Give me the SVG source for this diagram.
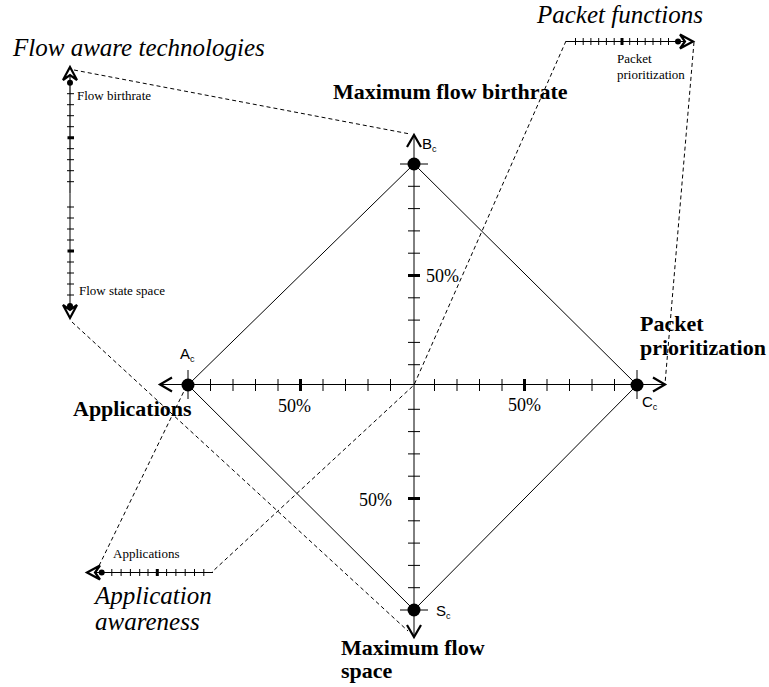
<svg xmlns="http://www.w3.org/2000/svg" xmlns:xlink="http://www.w3.org/1999/xlink" width="769" height="687" viewBox="0 0 769 687">
<style>
.ax{fill:none;stroke:#000;stroke-width:1.2}
.axg{fill:none;stroke:#000;stroke-width:1}
.tk{fill:none;stroke:#000;stroke-width:1}
.tkb{fill:none;stroke:#000;stroke-width:3}
.dg{fill:none;stroke:#000;stroke-width:1}
.ds{fill:none;stroke:#000;stroke-width:1;stroke-dasharray:4 3}
.it{font-family:"Liberation Serif",serif;font-style:italic;font-size:25px;fill:#000}
.bd{font-family:"Liberation Serif",serif;font-weight:bold;font-size:22px;fill:#000}
.sm{font-family:"Liberation Serif",serif;font-size:13px;fill:#000}
.pc{font-family:"Liberation Serif",serif;font-size:18px;fill:#000}
.nl{font-family:"Liberation Sans",Arial,sans-serif;font-size:15px;fill:#000}
.sub{font-size:9px}
</style>
<defs>
<path id="chev" d="M-12,-7 L0,0 L-12,7" fill="none" stroke="#000" stroke-width="2.2"/>
<path id="sarr" d="M0,0 L-13,-7 L-8,0 L-13,7 Z" fill="#fff" stroke="#000" stroke-width="2.2"/>
</defs>

<g id="connectors">
<path class="ds" d="M74,70 L410,134"/>
<path class="ds" d="M72,322 L408,631"/>
<path class="ds" d="M566,41 L414,385 L212,572"/>
<path class="ds" d="M694,42 L665,384"/>
<path class="ds" d="M96,572 L186,387"/>
<path class="dg" d="M188,385 L414,164 L637,385 L414,610 Z"/>
</g>

<g id="main-axes">
<path class="ax" d="M160,384.5 H665"/>
<path class="axg" d="M414,135 V637"/>
<path class="tk" d="M210.5,379v12M233,379v12M255.5,379v12M278,379v12M323,379v12M345.5,379v12M368,379v12M390.5,379v12M614.5,379v12M592,379v12M569.5,379v12M547,379v12M502,379v12M479.5,379v12M457,379v12M434.5,379v12"/>
<path class="tkb" d="M300.5,379v12M524.5,379v12"/>
<path class="tk" d="M408,186.3h12M408,208.6h12M408,230.9h12M408,253.2h12M408,297.8h12M408,320.1h12M408,342.4h12M408,364.7h12M408,587.7h12M408,565.4h12M408,543.1h12M408,520.8h12M408,476.2h12M408,453.9h12M408,431.6h12M408,409.3h12"/>
<path class="tkb" d="M408,275.5h12M408,498.5h12"/>
<use xlink:href="#chev" href="#chev" transform="translate(160,384.5) rotate(180)"/>
<use xlink:href="#chev" href="#chev" transform="translate(665,384.5)"/>
<use xlink:href="#chev" href="#chev" transform="translate(414,135) rotate(-90)"/>
<use xlink:href="#chev" href="#chev" transform="translate(414,637) rotate(90)"/>
<text class="pc" x="278" y="412">50%</text>
<text class="pc" x="508" y="411">50%</text>
<text class="pc" x="426" y="282">50%</text>
<text class="pc" x="359" y="506">50%</text>
</g>

<g id="node-A">
<path class="tk" d="M188,370 V399"/>
<circle cx="188" cy="385" r="6.5" fill="#000"/>
<text class="nl" x="180" y="359">A<tspan class="sub" dy="3">c</tspan></text>
<text class="bd" x="73" y="416">Applications</text>
</g>

<g id="node-B">
<path class="tk" d="M400,164 H428"/>
<circle cx="414" cy="164" r="6.5" fill="#000"/>
<text class="nl" x="422" y="149">B<tspan class="sub" dy="3">c</tspan></text>
<text class="bd" x="333" y="99">Maximum flow birthrate</text>
</g>

<g id="node-C">
<path class="tk" d="M637,370 V399"/>
<circle cx="637" cy="385" r="6.5" fill="#000"/>
<text class="nl" x="642" y="407">C<tspan class="sub" dy="3">c</tspan></text>
<text class="bd" x="640" y="331">Packet</text>
<text class="bd" x="640" y="355">prioritization</text>
</g>

<g id="node-S">
<path class="tk" d="M400,610 H428"/>
<circle cx="414" cy="610" r="6.5" fill="#000"/>
<text class="nl" x="436" y="616">S<tspan class="sub" dy="3">c</tspan></text>
<text class="bd" x="341" y="655">Maximum flow</text>
<text class="bd" x="341" y="678">space</text>
</g>

<g id="flow-aware">
<text class="it" x="13" y="56">Flow aware technologies</text>
<path class="ax" d="M70,70 V193.5"/>
<path class="axg" d="M70,193.5 V316" stroke="#444"/>
<path class="tk" d="M67,93.7h7M67,104.7h7M67,115.7h7M67,126.7h7M67,148.7h7M67,159.7h7M67,170.7h7M67,181.7h7M67,295h7M67,284h7M67,273h7M67,262h7M67,240h7M67,229h7M67,218h7M67,207h7"/>
<path class="tkb" d="M67.5,137.7h6.5M67.5,251h6.5"/>
<circle cx="70" cy="82.7" r="3" fill="#000"/>
<circle cx="70" cy="306" r="3" fill="#000"/>
<use xlink:href="#sarr" href="#sarr" transform="translate(70,67) rotate(-90)"/>
<use xlink:href="#sarr" href="#sarr" transform="translate(70,318) rotate(90)"/>
<text class="sm" x="77" y="100">Flow birthrate</text>
<text class="sm" x="79" y="295">Flow state space</text>
</g>

<g id="packet-functions">
<text class="it" x="537" y="23">Packet functions</text>
<path class="ax" d="M566,41.5 H690"/>
<path class="tk" d="M575.5,38v7M583.2,38v7M590.9,38v7M598.7,38v7M606.4,38v7M614.2,38v7M629.7,38v7M637.5,38v7M645.2,38v7M653,38v7M660.7,38v7M668.5,38v7"/>
<path class="tkb" d="M622,38v7"/>
<circle cx="678" cy="41.5" r="3" fill="#000"/>
<use xlink:href="#sarr" href="#sarr" transform="translate(693,41.5)"/>
<text class="sm" x="617" y="63">Packet</text>
<text class="sm" x="617" y="79">prioritization</text>
</g>

<g id="application-awareness">
<path class="ax" d="M90,572.5 H213"/>
<path class="tk" d="M111.8,569v7M121.1,569v7M130.4,569v7M139.7,569v7M148,569v7M166.6,569v7M175.9,569v7M185.2,569v7M194.5,569v7M203.8,569v7"/>
<path class="tkb" d="M157.3,569v7"/>
<circle cx="101.7" cy="572.5" r="3" fill="#000"/>
<use xlink:href="#sarr" href="#sarr" transform="translate(87,572.5) rotate(180)"/>
<text class="sm" x="113" y="558">Applications</text>
<text class="it" x="95" y="604">Application</text>
<text class="it" x="95" y="630">awareness</text>
</g>
</svg>
